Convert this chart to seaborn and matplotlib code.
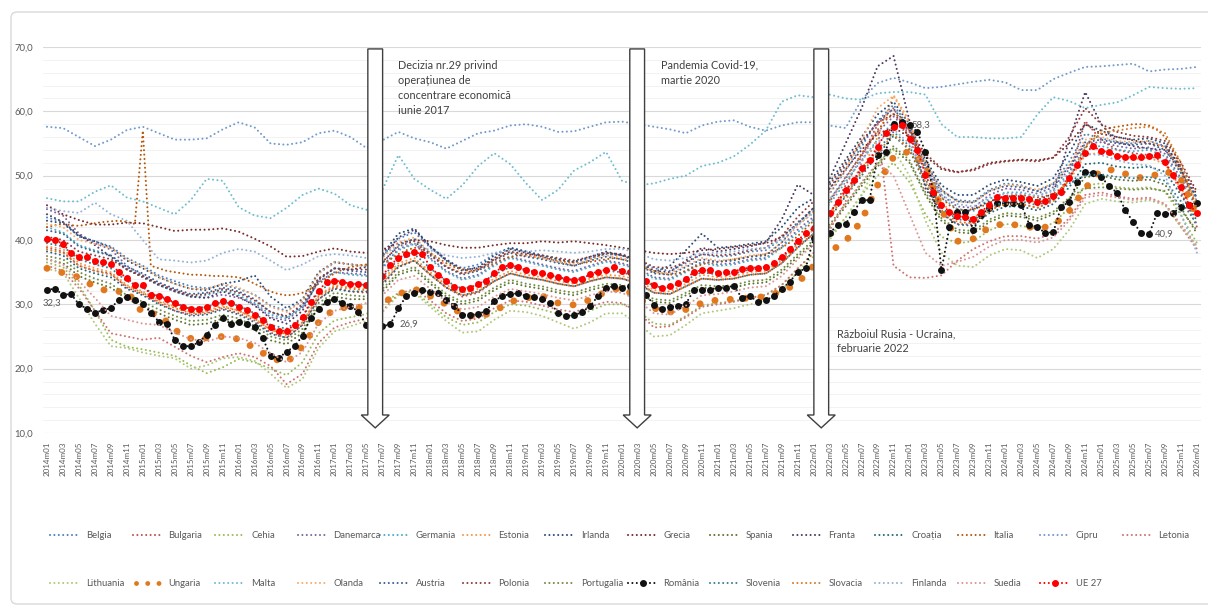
import numpy as np
import matplotlib
matplotlib.use("Agg")
import matplotlib.pyplot as plt
import matplotlib.patches as mpatches
import seaborn as sns

sns.set_theme(style="white")
plt.rcParams["font.family"] = ["Lato", "DejaVu Sans"]

months = [f"{2014 + i // 12}m{i % 12 + 1:02d}" for i in range(145)]
tick_months = months[::2]

# monthly series (2014m01 .. 2026m01)
romania = [32.3, 32.4, 31.5, 31.6, 30.0, 29.3, 28.7, 29.1, 29.4, 30.7, 31.1, 30.6,
           30.1, 28.7, 27.3, 27.0, 24.5, 23.5, 23.5, 24.1, 25.3, 26.8, 27.8, 27.0,
           27.2, 27.0, 26.4, 24.8, 21.9, 21.7, 22.6, 23.5, 25.1, 27.9, 29.2, 30.4,
           30.8, 30.2, 29.8, 28.8, 26.8, 26.7, 26.6, 26.9, 29.4, 31.3, 31.8, 32.2,
           31.9, 31.8, 30.7, 29.8, 28.4, 28.3, 28.5, 29.0, 30.5, 31.3, 31.6, 31.7,
           31.3, 31.2, 30.8, 30.2, 28.7, 28.2, 28.3, 28.8, 29.7, 31.3, 32.6, 32.8,
           32.6, 32.8, 32.0, 31.5, 29.9, 29.3, 29.6, 29.7, 30.1, 32.2, 32.3, 32.3,
           32.6, 32.6, 32.9, 31.0, 31.3, 30.4, 30.6, 31.3, 32.4, 33.5, 35.0, 35.6,
           40.3, 41.0, 41.1, 42.3, 42.5, 44.4, 46.2, 46.2, 53.2, 53.7, 58.0, 58.3,
           57.8, 56.8, 53.7, 47.3, 35.3, 42.0, 44.4, 44.4, 41.6, 43.9, 45.0, 45.8,
           45.8, 45.8, 45.5, 42.4, 42.0, 41.1, 41.2, 45.2, 45.9, 49.0, 50.6, 50.4,
           49.8, 48.4, 47.3, 44.7, 42.8, 41.1, 40.9, 44.2, 44.0, 44.2, 45.1, 45.5,
           45.8]
ue27 = [40.1, 40.0, 39.4, 38.0, 37.4, 37.4, 36.8, 36.6, 36.3, 35.0, 34.1, 33.0,
        33.0, 31.5, 31.3, 30.9, 30.2, 29.6, 29.3, 29.3, 29.6, 30.2, 30.5, 30.2,
        29.6, 29.1, 28.4, 27.6, 26.4, 25.9, 25.9, 26.8, 28.0, 30.4, 32.1, 33.5,
        33.7, 33.5, 33.2, 33.2, 33.0, 33.6, 34.4, 36.1, 37.2, 37.8, 38.1, 37.8,
        35.8, 34.6, 33.7, 32.7, 32.4, 32.6, 33.2, 33.7, 34.9, 35.8, 36.1, 35.8,
        35.3, 35.1, 34.9, 34.6, 34.2, 33.9, 33.8, 33.9, 34.7, 35.1, 35.4, 35.8,
        35.2, 35.1, 34.5, 33.7, 33.0, 32.5, 32.9, 33.3, 34.0, 35.0, 35.3, 35.3,
        34.9, 35.0, 35.1, 35.5, 35.7, 35.7, 35.8, 36.4, 37.4, 38.6, 39.9, 41.1,
        41.9, 43.0, 44.2, 45.9, 47.8, 49.3, 51.2, 52.5, 54.5, 56.6, 57.5, 57.9,
        55.7, 54.0, 50.1, 47.5, 45.5, 44.4, 43.7, 43.6, 43.3, 44.4, 45.5, 46.7,
        46.6, 46.6, 46.6, 46.3, 45.9, 46.1, 46.9, 47.5, 49.6, 51.7, 53.5, 54.6,
        53.8, 53.7, 53.1, 52.9, 52.9, 52.9, 53.1, 53.2, 52.1, 50.1, 48.2, 45.5,
        44.2]
italia = [42.0, 42.3, 42.5, 42.3, 42.2, 42.4, 42.6, 42.8, 42.9, 43.0, 42.8, 42.5,
          57.0, 36.0, 35.6, 35.2, 35.0, 34.8, 34.6, 34.6, 34.5, 34.4, 34.4, 34.3,
          34.2, 33.8, 33.2, 32.6, 32.0, 31.6, 31.4, 31.5, 31.8, 32.4, 33.2, 34.0,
          34.8, 35.4, 35.8, 36.0, 36.2, 36.3, 36.5, 37.0, 37.8, 38.4, 38.8, 38.6,
          38.0, 37.2, 36.4, 35.8, 35.4, 35.2, 35.4, 35.8, 36.4, 37.0, 37.4, 37.6,
          37.6, 37.4, 37.2, 37.0, 36.8, 36.6, 36.5, 36.4, 36.6, 36.8, 37.0, 37.2,
          37.0, 36.8, 36.2, 35.6, 35.2, 34.8, 34.6, 34.8, 35.2, 35.8, 36.2, 36.6,
          36.6, 36.8, 37.0, 37.2, 37.4, 37.6, 37.8, 38.2, 38.8, 39.6, 40.6, 41.8,
          43.0, 44.5, 46.0, 47.8, 49.6, 51.5, 53.4, 55.2, 57.0, 58.6, 59.6, 59.0,
          57.0, 54.0, 51.0, 48.5, 46.6, 45.4, 44.8, 44.6, 44.8, 45.2, 45.8, 46.4,
          46.8, 47.0, 47.0, 46.8, 46.6, 46.8, 47.2, 48.0, 49.6, 51.8, 54.2, 56.0,
          57.0, 57.4, 57.6, 57.8, 58.0, 58.0, 57.8, 57.2, 56.0, 54.0, 51.0, 48.0,
          44.5]

# bi-monthly series (m01, m03, ... each year, last = 2026m01)
belgia = [43.5, 42.8, 40.5, 39.8, 39.0, 37.2, 36.0, 34.5, 33.6, 32.8, 32.5, 33.0,
          32.4, 31.5, 29.8, 29.0, 30.5, 34.8, 36.5, 36.2, 36.0, 37.5, 40.2, 41.2,
          38.8, 36.8, 35.6, 36.2, 37.8, 38.8, 38.2, 37.6, 37.0, 36.5, 37.2, 37.8,
          37.6, 36.8, 35.6, 35.2, 36.4, 37.8, 37.4, 37.6, 38.2, 38.4, 40.2, 42.8,
          44.5, 47.2, 50.8, 54.5, 58.5, 61.0, 57.5, 51.5, 47.5, 46.2, 46.0, 47.8,
          48.8, 48.5, 47.6, 48.8, 52.2, 56.5, 55.8, 55.2, 55.0, 55.4, 54.6, 50.5, 46.0]
bulgaria = [38.8, 38.2, 36.0, 35.2, 34.8, 32.6, 31.6, 30.2, 29.0, 28.4, 28.6, 29.4,
            28.6, 27.5, 25.6, 24.8, 26.8, 30.8, 32.6, 32.0, 31.8, 33.0, 35.8, 36.8,
            34.6, 32.6, 31.2, 31.8, 33.6, 34.8, 34.2, 33.8, 33.2, 32.8, 33.6, 34.2,
            34.0, 33.4, 31.8, 31.6, 32.8, 34.0, 33.8, 34.0, 34.6, 34.8, 36.4, 39.0,
            41.0, 44.0, 48.5, 53.0, 58.0, 60.5, 56.0, 48.5, 44.0, 42.5, 42.4, 44.6,
            45.8, 45.6, 45.0, 46.2, 50.0, 58.5, 55.5, 54.0, 53.5, 53.2, 52.0, 47.5, 42.0]
cehia = [36.5, 35.8, 33.0, 29.0, 24.5, 23.4, 23.0, 22.5, 22.0, 20.5, 19.3, 20.2,
         21.5, 21.0, 20.0, 19.0, 21.0, 25.5, 27.5, 28.0, 28.5, 30.0, 31.8, 32.0,
         30.0, 28.0, 26.8, 27.2, 28.8, 30.0, 29.8, 29.2, 28.5, 28.0, 29.0, 30.0,
         30.0, 29.0, 27.0, 26.8, 28.2, 29.8, 30.2, 30.5, 31.0, 31.5, 33.0, 35.5,
         38.0, 40.5, 43.5, 47.0, 50.0, 52.0, 49.0, 44.0, 40.5, 39.5, 39.8, 41.5,
         42.5, 42.2, 41.8, 42.6, 45.0, 48.5, 48.8, 48.2, 48.0, 48.2, 47.5, 43.8, 39.5]
danemarca = [44.8, 43.8, 41.0, 39.5, 38.5, 36.0, 34.5, 33.0, 32.2, 31.2, 31.0, 31.5,
             31.0, 30.0, 28.0, 27.5, 29.5, 33.5, 35.0, 34.8, 34.6, 35.8, 38.6, 39.5,
             37.2, 35.2, 34.0, 34.6, 36.2, 37.4, 36.8, 36.2, 35.6, 35.2, 36.0, 36.8,
             36.4, 35.6, 34.2, 34.0, 35.2, 36.6, 36.2, 36.4, 37.0, 37.2, 39.0, 41.6,
             43.6, 46.2, 49.8, 53.2, 56.8, 59.2, 56.8, 51.5, 47.0, 45.2, 45.0, 47.0,
             48.0, 47.8, 47.2, 48.2, 51.0, 55.0, 55.2, 54.6, 54.2, 54.4, 53.4, 49.6, 45.5]
germania = [42.0, 41.2, 39.2, 38.4, 37.6, 35.6, 34.4, 33.0, 32.0, 31.2, 31.4, 32.2,
            31.4, 30.2, 28.4, 27.8, 29.6, 33.4, 35.0, 34.6, 34.4, 35.6, 38.4, 39.4,
            37.0, 35.0, 33.8, 34.4, 36.0, 37.2, 36.6, 36.0, 35.4, 35.0, 35.8, 36.6,
            36.2, 35.4, 34.0, 33.8, 35.0, 36.4, 36.0, 36.2, 36.8, 37.0, 38.8, 41.2,
            43.2, 45.6, 49.0, 52.4, 55.6, 58.4, 56.2, 51.0, 46.6, 44.8, 44.5, 46.4,
            47.4, 47.4, 46.8, 47.8, 50.4, 54.4, 54.6, 54.0, 53.8, 54.0, 53.0, 49.2, 45.0]
estonia = [39.0, 38.6, 36.4, 35.6, 35.0, 33.0, 32.0, 30.6, 29.6, 28.8, 29.0, 29.8,
           29.0, 27.8, 26.0, 25.2, 27.2, 31.4, 33.0, 32.6, 32.4, 33.8, 36.4, 37.2,
           35.0, 33.0, 31.8, 32.4, 34.0, 35.2, 34.6, 34.2, 33.6, 33.2, 34.0, 34.6,
           34.4, 33.8, 32.2, 32.0, 33.2, 34.6, 34.2, 34.4, 35.0, 35.2, 36.8, 39.4,
           41.6, 44.0, 47.4, 50.6, 56.0, 62.5, 58.5, 50.8, 45.8, 43.6, 43.4, 45.2,
           46.4, 46.4, 45.8, 46.6, 49.2, 53.2, 53.6, 53.0, 52.6, 52.8, 51.8, 48.0, 43.8]
irlanda = [43.0, 42.6, 40.6, 39.8, 38.8, 36.8, 35.6, 34.2, 33.2, 32.4, 32.2, 33.2,
           33.6, 34.5, 31.2, 29.4, 30.8, 35.0, 36.6, 36.2, 36.0, 37.8, 41.0, 41.8,
           39.0, 36.8, 35.2, 35.8, 37.6, 38.8, 38.2, 37.6, 37.0, 36.6, 37.4, 38.2,
           37.6, 36.6, 35.0, 36.0, 38.4, 41.0, 38.8, 39.0, 39.4, 39.8, 42.0, 45.0,
           46.5, 49.0, 52.5, 56.0, 59.5, 61.5, 58.0, 52.5, 48.5, 47.0, 47.0, 48.6,
           49.4, 49.0, 48.4, 49.6, 53.5, 58.0, 57.0, 56.0, 55.6, 55.8, 55.0, 51.0, 46.5]
grecia = [45.4, 44.0, 43.1, 42.4, 42.4, 42.7, 42.6, 42.0, 41.4, 41.6, 41.6, 41.8,
          41.3, 40.2, 39.0, 37.4, 37.5, 38.2, 38.7, 38.2, 38.0, 38.5, 39.5, 40.0,
          39.8, 39.2, 38.8, 38.8, 39.2, 39.5, 39.5, 39.8, 39.6, 39.8, 39.5, 39.2,
          38.8, 38.4, 38.0, 37.8, 38.0, 38.4, 38.6, 38.9, 39.2, 39.5, 40.5, 42.5,
          45.0, 48.0, 51.0, 54.0, 56.5, 57.5, 56.0, 53.0, 51.0, 50.5, 51.0, 52.0,
          52.3, 52.5, 52.4, 52.8, 55.0, 58.0, 56.5, 56.0, 55.5, 55.0, 54.5, 51.5, 47.0]
spania = [37.0, 36.4, 34.4, 33.4, 32.6, 30.8, 29.8, 28.6, 27.6, 26.8, 27.0, 27.8,
          27.2, 26.0, 24.4, 23.8, 25.6, 29.6, 31.2, 30.8, 30.8, 32.0, 34.6, 35.4,
          33.2, 31.2, 30.0, 30.6, 32.2, 33.4, 32.8, 32.4, 31.8, 31.4, 32.2, 32.8,
          32.6, 31.8, 30.4, 30.2, 31.4, 32.6, 32.4, 32.6, 33.2, 33.4, 35.0, 37.4,
          39.6, 42.0, 45.2, 48.4, 51.4, 54.2, 52.0, 47.0, 43.0, 41.2, 41.0, 42.8,
          43.8, 43.6, 43.0, 44.0, 46.4, 49.8, 50.0, 49.4, 49.2, 49.4, 48.6, 45.0, 41.0]
franta = [44.0, 42.8, 40.8, 39.2, 37.4, 35.4, 34.2, 33.0, 32.0, 31.2, 31.0, 32.0,
          31.2, 29.8, 27.8, 27.0, 29.0, 33.8, 35.6, 35.4, 35.8, 37.4, 40.4, 41.6,
          39.0, 37.0, 35.4, 35.6, 37.2, 38.6, 38.0, 37.4, 36.6, 36.0, 37.0, 38.0,
          37.8, 36.8, 35.2, 35.0, 36.8, 38.8, 38.2, 38.6, 39.0, 39.6, 43.2, 48.6,
          47.0, 49.5, 55.0, 60.5, 67.0, 68.6, 58.5, 48.0, 44.2, 44.0, 44.8, 46.0,
          46.8, 46.8, 46.2, 47.2, 55.5, 63.0, 58.0, 55.2, 54.6, 54.2, 54.0, 51.0, 45.0]
croatia = [38.2, 37.6, 35.6, 34.8, 34.2, 32.4, 31.4, 30.0, 29.0, 28.2, 28.4, 29.2,
           28.4, 27.2, 25.4, 24.8, 26.8, 30.8, 32.4, 32.0, 32.0, 33.2, 35.8, 36.8,
           34.6, 32.6, 31.4, 32.0, 33.6, 34.8, 34.2, 33.8, 33.2, 32.8, 33.6, 34.2,
           34.0, 33.2, 31.8, 31.6, 32.8, 34.0, 33.8, 34.0, 34.6, 34.8, 36.4, 38.8,
           41.0, 43.4, 46.8, 50.0, 53.2, 56.2, 54.0, 48.6, 44.2, 42.4, 42.2, 44.2,
           45.2, 45.2, 44.6, 45.6, 48.2, 51.8, 52.0, 51.4, 51.2, 51.4, 50.6, 47.0, 43.0]
cipru = [57.6, 57.4, 56.0, 54.6, 55.6, 57.1, 57.6, 56.6, 55.6, 55.6, 55.8, 57.2,
         58.3, 57.5, 55.0, 54.8, 55.2, 56.6, 57.0, 56.0, 54.3, 55.5, 56.8, 55.8,
         55.2, 54.2, 55.4, 56.6, 57.0, 57.8, 58.0, 57.6, 56.8, 56.9, 57.6, 58.3,
         58.4, 58.0, 57.6, 57.2, 56.6, 57.8, 58.4, 58.6, 57.6, 57.0, 57.8, 58.3,
         58.3, 57.8, 57.4, 61.8, 64.4, 65.2, 64.5, 63.6, 63.8, 64.2, 64.6, 64.9,
         64.5, 63.3, 63.3, 65.0, 66.0, 66.9, 67.0, 67.2, 67.4, 66.2, 66.5, 66.6, 66.9]
letonia = [36.0, 35.2, 32.5, 29.0, 25.5, 25.0, 24.5, 24.8, 23.4, 22.0, 21.0, 21.8,
           22.4, 21.8, 20.4, 17.6, 19.2, 24.0, 26.4, 27.2, 27.8, 29.0, 31.6, 32.4,
           30.6, 28.6, 27.4, 27.8, 29.4, 30.6, 30.4, 29.8, 29.2, 28.8, 29.6, 30.4,
           30.2, 28.8, 26.4, 26.6, 28.0, 29.6, 30.0, 30.4, 31.0, 31.4, 33.0, 35.6,
           38.0, 41.5, 46.0, 52.0, 58.0, 36.0, 34.2, 34.1, 34.5, 36.8, 38.6, 39.8,
           40.6, 40.6, 40.2, 41.0, 43.4, 47.0, 47.4, 46.8, 46.4, 46.6, 45.6, 42.0, 38.6]
lithuania = [35.5, 35.0, 31.0, 27.0, 23.5, 23.2, 22.5, 22.0, 21.6, 20.0, 20.5, 21.6,
             21.8, 21.2, 19.2, 17.0, 18.4, 23.2, 25.8, 26.6, 27.4, 28.8, 31.4, 31.8,
             29.6, 27.4, 25.6, 25.8, 27.6, 29.0, 28.8, 28.2, 27.2, 26.2, 27.2, 28.6,
             28.6, 27.0, 25.0, 25.2, 26.8, 28.6, 29.0, 29.4, 30.0, 30.4, 32.2, 35.0,
             37.5, 40.0, 43.5, 47.0, 52.0, 54.0, 50.0, 43.0, 38.0, 36.0, 35.8, 37.6,
             38.6, 38.4, 37.2, 38.6, 41.6, 45.6, 46.4, 46.0, 45.8, 46.2, 45.4, 42.0, 39.0]
ungaria = [35.6, 34.9, 34.2, 32.7, 31.9, 32.1, 28.6, 28.5, 26.0, 24.7, 24.8, 25.0,
           24.6, 23.2, 21.7, 20.9, 23.5, 27.2, 29.3, 29.6, 29.5, 30.2, 31.6, 32.4,
           31.3, 30.0, 28.5, 28.0, 28.9, 30.4, 31.0, 31.3, 30.2, 29.9, 30.7, 32.0,
           32.6, 31.0, 29.4, 28.8, 29.2, 30.2, 30.7, 30.8, 31.0, 31.2, 32.0, 33.3,
           36.0, 38.2, 39.8, 43.0, 48.5, 52.9, 53.8, 51.5, 44.8, 39.8, 40.2, 42.0,
           42.6, 42.2, 41.8, 42.2, 44.5, 48.0, 50.9, 50.9, 49.7, 49.7, 50.8, 49.5, 43.5]
malta = [46.5, 46.0, 46.0, 47.5, 48.5, 46.6, 46.0, 45.0, 44.0, 46.2, 49.5, 49.2,
         45.1, 43.8, 43.4, 45.0, 47.0, 48.0, 47.2, 45.4, 44.7, 47.8, 53.2, 49.5,
         47.8, 46.4, 48.5, 51.5, 53.5, 51.8, 48.8, 46.2, 47.8, 50.8, 52.1, 53.7,
         49.2, 48.5, 48.8, 49.5, 50.0, 51.5, 52.0, 53.0, 54.8, 57.0, 61.5, 62.5,
         62.2, 62.6, 62.0, 61.8, 62.8, 63.0, 63.0, 62.6, 58.0, 56.0, 56.0, 55.8,
         55.8, 56.0, 59.5, 62.2, 61.6, 60.5, 61.0, 61.4, 62.5, 63.8, 63.6, 63.5, 63.6]
olanda = [42.5, 42.0, 40.0, 39.4, 38.8, 37.0, 35.8, 34.2, 33.2, 32.4, 32.4, 33.2,
          32.6, 31.4, 29.6, 28.8, 30.6, 34.8, 36.6, 36.2, 36.0, 37.2, 39.6, 40.4,
          38.0, 36.0, 34.8, 35.4, 37.0, 38.2, 37.6, 37.2, 36.6, 36.2, 37.0, 37.6,
          37.2, 36.4, 35.0, 34.8, 36.0, 37.2, 36.8, 37.0, 37.6, 37.8, 39.6, 42.2,
          44.4, 47.4, 51.0, 55.5, 60.5, 62.4, 58.0, 52.2, 47.8, 46.0, 45.8, 47.6,
          48.6, 48.4, 47.8, 48.8, 51.6, 55.6, 56.0, 55.4, 55.2, 55.4, 54.4, 50.4, 46.0]
austria = [41.5, 41.0, 39.0, 38.2, 37.6, 35.8, 34.8, 33.4, 32.4, 31.6, 31.8, 32.6,
           32.0, 30.8, 28.8, 28.0, 29.8, 34.0, 35.6, 35.2, 35.0, 36.4, 39.2, 40.2,
           37.8, 35.8, 34.6, 35.2, 36.8, 38.0, 37.4, 37.0, 36.4, 36.0, 36.8, 37.4,
           37.0, 36.2, 34.8, 34.6, 35.8, 37.0, 36.6, 36.8, 37.4, 37.6, 39.6, 42.6,
           45.0, 48.0, 51.6, 55.0, 58.4, 60.4, 57.4, 52.0, 47.8, 46.0, 45.8, 47.6,
           48.4, 48.2, 47.6, 48.6, 51.4, 55.2, 55.6, 55.0, 54.8, 55.0, 54.0, 50.4, 46.6]
polonia = [40.5, 40.0, 38.2, 37.6, 37.0, 35.4, 34.4, 33.2, 32.2, 31.4, 31.6, 32.4,
           31.8, 30.6, 28.8, 28.2, 30.0, 34.0, 35.6, 35.4, 35.4, 36.6, 39.0, 39.8,
           37.6, 35.8, 34.8, 35.4, 37.0, 38.2, 37.8, 37.6, 37.2, 36.8, 37.4, 38.0,
           37.6, 37.0, 35.8, 35.6, 36.6, 37.8, 37.6, 37.8, 38.4, 38.8, 40.6, 43.6,
           46.0, 48.6, 52.0, 55.4, 58.2, 59.6, 57.0, 53.4, 51.2, 50.6, 50.8, 51.8,
           52.2, 52.4, 52.2, 52.8, 56.0, 60.5, 58.0, 56.8, 56.2, 56.0, 55.4, 52.0, 47.5]
portugalia = [37.5, 37.0, 35.0, 34.0, 33.2, 31.4, 30.4, 29.2, 28.2, 27.4, 27.6, 28.4,
              27.8, 26.6, 25.0, 24.4, 26.2, 30.2, 31.8, 31.4, 31.2, 32.4, 35.0, 35.8,
              33.6, 31.6, 30.4, 31.0, 32.6, 33.8, 33.2, 32.8, 32.2, 31.8, 32.6, 33.2,
              33.0, 32.2, 30.8, 30.6, 31.8, 33.0, 32.8, 33.0, 33.6, 33.8, 35.4, 37.8,
              40.0, 42.4, 45.6, 48.8, 51.8, 54.6, 52.4, 47.4, 43.4, 41.6, 41.4, 43.2,
              44.2, 44.0, 43.4, 44.4, 46.6, 48.0, 48.2, 48.0, 47.8, 48.0, 47.6, 44.6, 41.5]
slovenia = [39.5, 39.0, 37.0, 36.2, 35.6, 33.6, 32.6, 31.2, 30.2, 29.4, 29.6, 30.4,
            29.8, 28.6, 26.8, 26.2, 28.0, 32.0, 33.6, 33.2, 33.0, 34.2, 37.0, 37.8,
            35.6, 33.6, 32.4, 33.0, 34.6, 35.8, 35.2, 34.8, 34.2, 33.8, 34.6, 35.2,
            35.0, 34.2, 32.8, 32.6, 33.8, 35.0, 34.6, 34.8, 35.4, 35.6, 37.2, 39.6,
            41.8, 44.2, 47.6, 50.8, 54.0, 56.8, 54.6, 49.4, 45.0, 43.2, 43.0, 45.0,
            46.0, 46.0, 45.4, 46.4, 48.8, 50.0, 50.2, 49.8, 49.6, 49.8, 49.2, 46.0, 42.5]
slovacia = [38.5, 38.0, 36.0, 35.2, 34.6, 32.8, 31.8, 30.4, 29.4, 28.6, 28.8, 29.6,
            29.0, 27.8, 26.0, 25.4, 27.2, 31.2, 32.8, 32.4, 32.2, 33.4, 36.0, 36.8,
            34.6, 32.6, 31.4, 32.0, 33.6, 34.8, 34.2, 33.8, 33.2, 32.8, 33.6, 34.2,
            34.0, 33.2, 31.8, 31.6, 32.8, 34.0, 33.8, 34.0, 34.6, 34.8, 36.4, 38.8,
            41.0, 43.6, 47.0, 50.4, 53.6, 56.4, 54.2, 49.0, 44.6, 42.8, 42.6, 44.6,
            45.6, 45.6, 45.0, 46.0, 49.4, 54.6, 56.6, 57.0, 57.4, 57.6, 56.6, 52.0, 44.8]
finlanda = [45.0, 44.5, 44.2, 45.8, 44.0, 43.0, 40.0, 37.0, 36.8, 36.5, 36.8, 38.0,
            38.6, 38.2, 36.8, 35.3, 36.2, 37.5, 37.8, 37.6, 37.2, 37.8, 39.0, 39.4,
            38.4, 37.6, 37.2, 37.4, 38.0, 38.4, 38.2, 38.4, 38.2, 38.0, 38.2, 38.6,
            38.6, 38.0, 37.0, 36.8, 37.2, 38.0, 38.0, 38.2, 38.6, 38.8, 40.0, 42.4,
            44.2, 46.4, 49.4, 52.4, 55.2, 57.2, 55.0, 50.6, 47.0, 45.6, 45.2, 46.6,
            47.2, 47.2, 46.8, 47.6, 50.0, 53.4, 53.2, 52.4, 51.8, 51.6, 50.0, 44.0, 38.0]
suedia = [37.0, 36.2, 33.6, 31.0, 28.2, 27.6, 27.0, 26.8, 25.6, 24.6, 24.2, 25.0,
          24.8, 24.0, 22.4, 21.0, 22.6, 27.0, 29.0, 29.6, 30.2, 31.4, 33.8, 34.4,
          32.4, 30.4, 29.2, 29.6, 31.2, 32.4, 32.0, 31.6, 31.0, 30.6, 31.4, 32.0,
          31.8, 30.6, 28.6, 28.4, 29.8, 31.4, 31.6, 32.0, 32.6, 32.8, 34.4, 37.0,
          39.4, 42.0, 45.6, 49.0, 52.0, 50.0, 44.0, 38.0, 36.0, 36.6, 37.4, 39.0,
          40.0, 40.0, 39.6, 40.4, 43.0, 46.6, 47.0, 46.6, 46.2, 46.4, 45.6, 42.4, 39.0]

series = [
    ("Belgia", belgia, "#4f81bd"), ("Bulgaria", bulgaria, "#c0504d"),
    ("Cehia", cehia, "#9bbb59"), ("Danemarca", danemarca, "#8064a2"),
    ("Germania", germania, "#4bacc6"), ("Estonia", estonia, "#f79646"),
    ("Irlanda", irlanda, "#2c4d75"), ("Grecia", grecia, "#772c2a"),
    ("Spania", spania, "#5f7530"), ("Franta", franta, "#4d3b62"),
    ("Croația", croatia, "#276a7c"), ("Italia", italia, "#b65708"),
    ("Cipru", cipru, "#729aca"), ("Letonia", letonia, "#cd7371"),
    ("Lithuania", lithuania, "#afc97a"), ("Ungaria", ungaria, "#e2781e"),
    ("Malta", malta, "#6fbdd1"), ("Olanda", olanda, "#f9ab6b"),
    ("Austria", austria, "#3b6190"), ("Polonia", polonia, "#903c3a"),
    ("Portugalia", portugalia, "#748c43"), ("România", romania, "#111111"),
    ("Slovenia", slovenia, "#388195"), ("Slovacia", slovacia, "#d87a2a"),
    ("Finlanda", finlanda, "#95b3d7"), ("Suedia", suedia, "#d99694"),
    ("UE 27", ue27, "#ff0000"),
]
marked = {"România", "UE 27"}
DOT = (0, (0.01, 2.1))
BIG_DOT = (0, (0.01, 2.2))

fig = plt.figure(figsize=(12.08, 6.08), dpi=100)
ax = fig.add_axes([43 / 1208, 1 - 433 / 608, 1158 / 1208, 386 / 608])

for name, vals, color in series:
    xs = np.linspace(0, 144, len(vals))
    if name == "Ungaria":
        sns.lineplot(x=xs, y=vals, color=color, lw=5, linestyle=BIG_DOT,
                     dash_capstyle="round", ax=ax, legend=False, errorbar=None)
    elif name in marked:
        sns.lineplot(x=xs, y=vals, color=color, lw=1.5, linestyle=DOT,
                     dash_capstyle="round", marker="o", markersize=5,
                     markeredgewidth=0, ax=ax, legend=False, errorbar=None)
    else:
        sns.lineplot(x=xs, y=vals, color=color, lw=1.5, linestyle=DOT,
                     dash_capstyle="round", ax=ax, legend=False, errorbar=None)

ax.set_xlim(-0.5, 144.5)
ax.set_ylim(10, 70)
ax.set_xticks(range(0, 145, 2))
ax.set_xticklabels(tick_months, rotation=90, fontsize=5.8, color="#595959")
ax.set_yticks(range(10, 71, 10))
ax.set_yticklabels([f"{v},0" for v in range(10, 71, 10)], fontsize=6.8, color="#595959")
ax.set_yticks(np.arange(10, 71, 2), minor=True)
ax.tick_params(axis="both", which="both", length=0)
ax.tick_params(axis="x", pad=6)
ax.tick_params(axis="y", pad=7)
ax.grid(axis="y", which="major", color="#d9d9d9", lw=0.8)
ax.grid(axis="y", which="minor", color="#f0f0f0", lw=0.6)
ax.set_axisbelow(True)
for s in ax.spines.values():
    s.set_visible(False)
ax.set_xlabel("")
ax.set_ylabel("")

# event arrows
for xc in [41.1, 73.9, 96.95]:
    ax.add_patch(mpatches.FancyArrow(xc, 69.7, 0, 10.8 - 69.7, width=1.85,
                                     head_width=3.5, head_length=2.0,
                                     length_includes_head=True, fc="white",
                                     ec="#3f3f3f", lw=1.0, zorder=5))

note_kw = dict(fontsize=7.8, color="#404040", va="top", ha="left", linespacing=1.45, zorder=6)
ax.text(43.9, 68.0, "Decizia nr.29 privind\noperațiunea de\nconcentrare economică\niunie 2017", **note_kw)
ax.text(76.9, 68.0, "Pandemia Covid-19,\nmartie 2020", **note_kw)
ax.text(98.9, 26.3, "Războiul Rusia - Ucraina,\nfebruarie 2022", **note_kw)

lab_kw = dict(textcoords="offset pixels", fontsize=6.8, color="#595959", va="center", zorder=6)
ax.annotate("32,3", (0, romania[0]), xytext=(5, -14), ha="center", **lab_kw)
ax.annotate("26,9", (43, romania[43]), xytext=(9, 0), ha="left", **lab_kw)
ax.annotate("58,3", (107, romania[107]), xytext=(10, -3), ha="left", **lab_kw)
ax.annotate("40,9", (138, romania[138]), xytext=(6, 0), ha="left", **lab_kw)

# legend + outer frame in pixel coordinates
lax = fig.add_axes([0, 0, 1, 1])
lax.set_xlim(0, 1208)
lax.set_ylim(608, 0)
lax.axis("off")
lax.add_patch(mpatches.FancyBboxPatch((11, 12), 1230, 592,
                                      boxstyle="round,pad=0,rounding_size=6",
                                      ec="#d9d9d9", fc="none", lw=1))
rows = [series[:14], series[14:]]
for r, row in enumerate(rows):
    y = 535 + 48 * r
    for c, (name, vals, color) in enumerate(row):
        x0 = 50 + 82.5 * c
        if name == "Ungaria":
            lax.plot([x0 + 3, x0 + 27], [y, y], color=color, lw=3.5,
                     linestyle=(0, (0.01, 2.3)), dash_capstyle="round")
        else:
            lax.plot([x0, x0 + 30], [y, y], color=color, lw=1.5,
                     linestyle=DOT, dash_capstyle="round")
            if name in marked:
                lax.plot([x0 + 15], [y], "o", color=color, ms=5, mew=0)
        lax.text(x0 + 36, y, name, fontsize=6.8, color="#595959", va="center", ha="left")

fig.savefig("out.png", dpi=100, facecolor="white")
